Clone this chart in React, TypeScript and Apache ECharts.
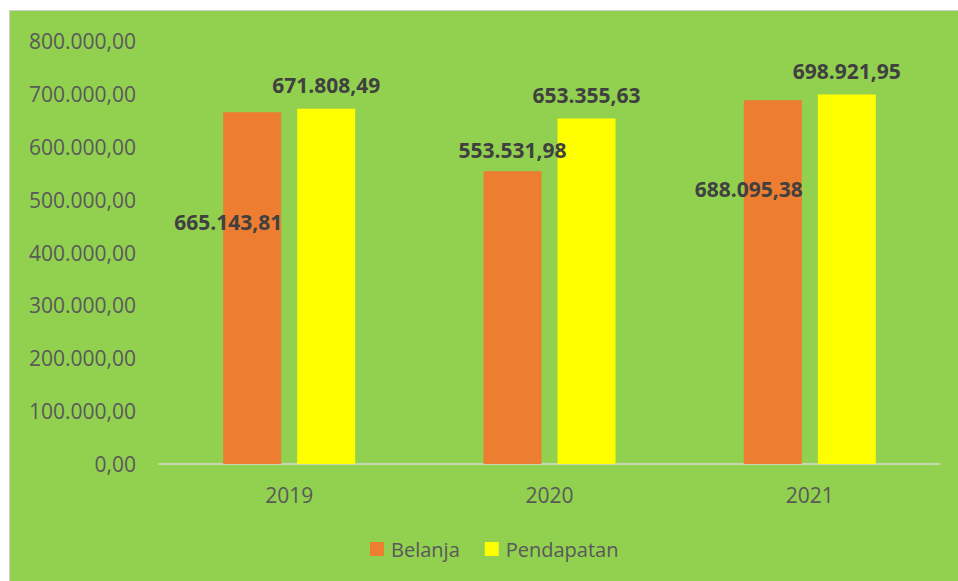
import React, { useEffect, useRef } from "react";
import * as echarts from "echarts";

const categories = ["2019", "2020", "2021"];
const belanja = [665143.81, 553531.98, 688095.38];
const pendapatan = [671808.49, 653355.63, 698921.95];
const seriesNames = ["Belanja", "Pendapatan"];

const fmt = (v: number, d = 2) => {
  const [i, f] = v.toFixed(d).split(".");
  return i.replace(/\B(?=(\d{3})+(?!\d))/g, ".") + "," + f;
};

const FONT = "'Open Sans', 'Noto Sans', sans-serif";

export default function App() {
  const ref = useRef<HTMLDivElement>(null);
  useEffect(() => {
    if (!ref.current) return;
    const chart = echarts.init(ref.current, undefined, { renderer: "svg" });
    const labelBase = {
      show: true,
      position: "top" as const,
      distance: 13,
      fontFamily: FONT,
      fontSize: 21,
      fontWeight: "bold" as const,
      color: "#404040",
      formatter: (p: any) => fmt(p.value),
    };
    const belanjaOffsets: [number, number][] = [
      [-24, 133],
      [0, 2],
      [-24, 112],
    ];
    chart.setOption({
      animation: false,
      backgroundColor: "#92D050",
      grid: { left: 149, right: 18, top: 30, bottom: 117 },
      legend: {
        data: seriesNames,
        left: 355,
        top: 523,
        itemWidth: 14,
        itemHeight: 14,
        itemGap: 25,
        icon: "rect",
        textStyle: { fontFamily: FONT, fontSize: 20, color: "#595959", padding: [0, 0, 0, 2] },
      },
      xAxis: {
        type: "category",
        data: categories,
        axisLine: { show: true, lineStyle: { color: "#D9D9D9", width: 1.5 } },
        axisTick: { show: false },
        axisLabel: { fontFamily: FONT, fontSize: 21, color: "#595959", margin: 20 },
      },
      yAxis: {
        type: "value",
        min: 0,
        max: 800000,
        interval: 100000,
        axisLine: { show: false },
        axisTick: { show: false },
        splitLine: { show: false },
        axisLabel: {
          fontFamily: FONT,
          fontSize: 21,
          color: "#595959",
          margin: 23,
          formatter: (v: number) => fmt(v),
        },
      },
      series: [
        {
          name: seriesNames[0],
          type: "bar",
          barWidth: 58,
          barGap: "27.6%",
          itemStyle: { color: "#ED7D31" },
          data: belanja.map((v, i) => ({
            value: v,
            label: { ...labelBase, offset: belanjaOffsets[i] },
          })),
          label: labelBase,
        },
        {
          name: seriesNames[1],
          type: "bar",
          barWidth: 58,
          barGap: "27.6%",
          itemStyle: { color: "#FFFF00" },
          data: pendapatan,
          label: labelBase,
        },
      ],
    });
    return () => chart.dispose();
  }, []);
  return (
    <div
      style={{
        position: "fixed",
        left: 0,
        top: 0,
        width: 958,
        height: 581,
        background: "#ffffff",
      }}
    >
      <div
        style={{
          position: "absolute",
          left: 9,
          top: 10,
          width: 949,
          height: 571,
          borderLeft: "1px solid #D0D0D0",
          borderTop: "1px solid #D0D0D0",
          boxSizing: "border-box",
        }}
      >
        <div ref={ref} style={{ width: 948, height: 570 }} />
      </div>
    </div>
  );
}
